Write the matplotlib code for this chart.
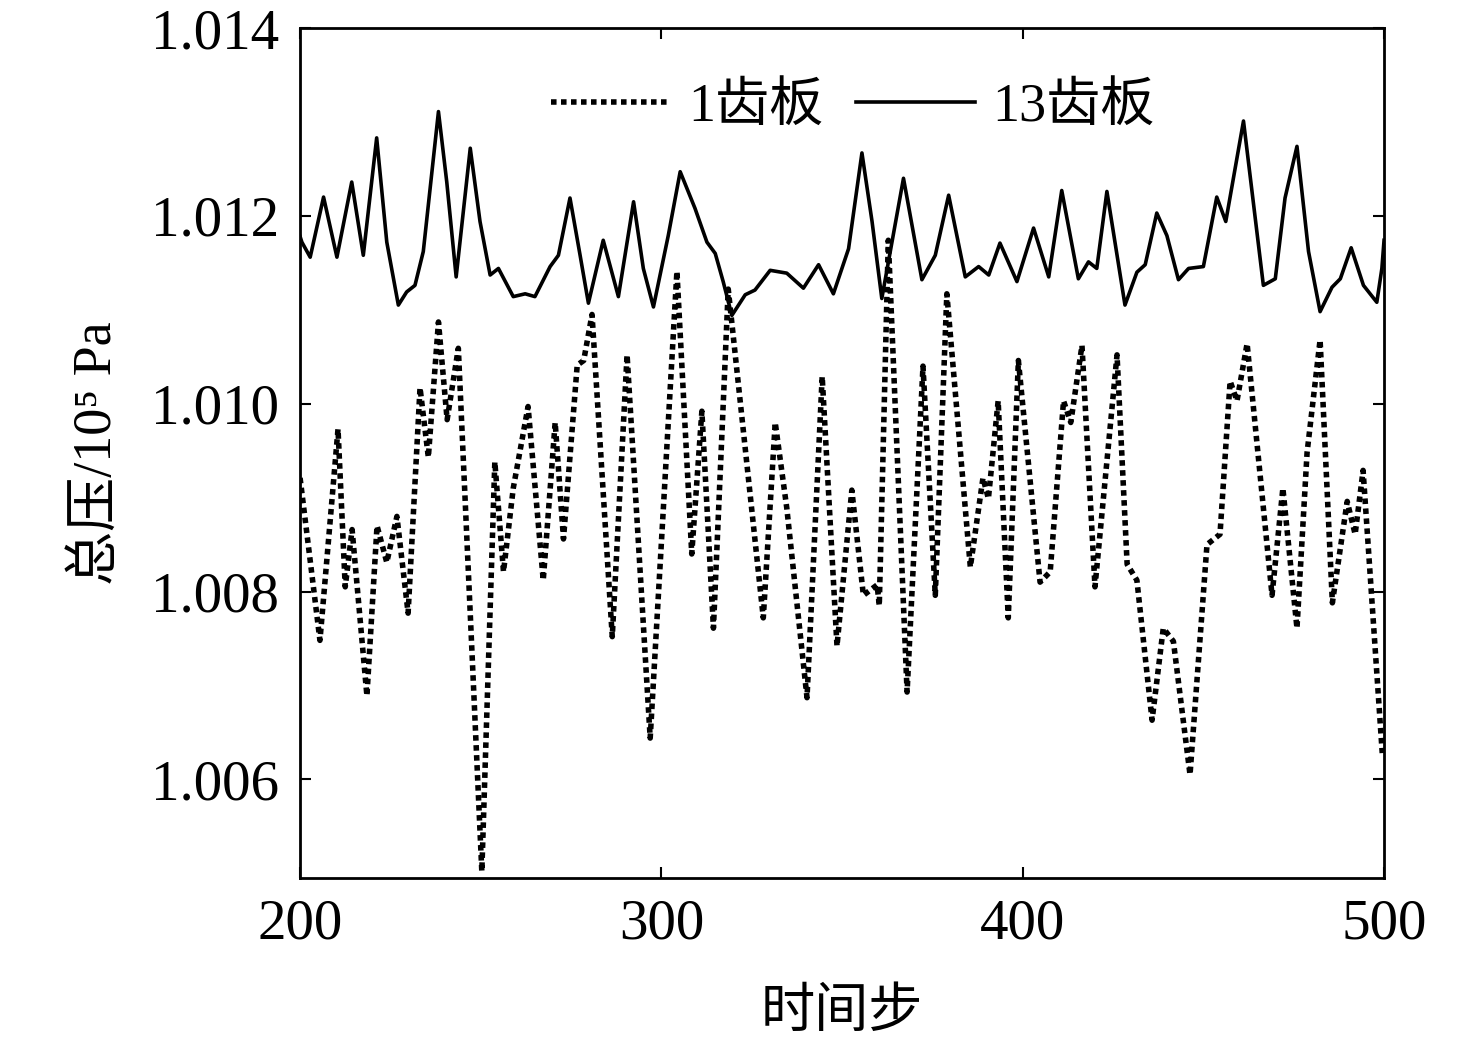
import matplotlib
matplotlib.use("Agg")
import matplotlib.pyplot as plt
from matplotlib.ticker import FormatStrFormatter

plt.rcParams["font.family"] = ["Liberation Serif", "Noto Sans CJK SC", "DejaVu Serif"]

# 13齿板 (solid line): time step, total pressure (1e5 Pa)
t13 = [200, 200.5, 202.8, 206.5, 210.2, 214.3, 217.5, 221.2, 224, 227.2, 229.5, 231.8, 234.1,
       238.3, 240.6, 243.2, 247.1, 249.8, 252.6, 254.9, 259, 262.3, 265, 269.2, 271.5, 274.7,
       277.5, 279.8, 283.9, 288.1, 292.3, 295, 297.8, 301.9, 305.2, 309.3, 312.6, 314.9,
       317.1, 319.5, 323.2, 325.9, 330.1, 334.7, 339.3, 343.5, 347.6, 351.8, 355.5, 358.3,
       361, 367, 372.1, 375.8, 379.5, 384.1, 387.8, 390.6, 393.7, 398.4, 403, 407.2, 410.8,
       415.4, 418.2, 420.5, 423.3, 428.3, 431.6, 433.9, 437.1, 439.9, 443.1, 445.9, 450,
       453.7, 456.2, 461.1, 466.6, 469.9, 472.6, 475.9, 479.1, 482.3, 485.6, 487.9, 490.9,
       494.3, 498, 499.4, 500]
p13 = [1.01178, 1.01172, 1.01156, 1.01220, 1.01156, 1.01236, 1.01158, 1.01283, 1.01172, 1.01105,
       1.01119, 1.01126, 1.01162, 1.01311, 1.01236, 1.01135, 1.01272, 1.01194, 1.01137, 1.01144,
       1.01114, 1.01117, 1.01114, 1.01146, 1.01158, 1.01219, 1.01158, 1.01107, 1.01174, 1.01114,
       1.01215, 1.01144, 1.01103, 1.01179, 1.01247, 1.01208, 1.01172, 1.01160, 1.01130, 1.01094,
       1.01116, 1.01121, 1.01142, 1.01139, 1.01123, 1.01148, 1.01117, 1.01165, 1.01267, 1.01194,
       1.01112, 1.01240, 1.01132, 1.01158, 1.01222, 1.01135, 1.01146, 1.01137, 1.01171, 1.01130,
       1.01187, 1.01135, 1.01227, 1.01133, 1.01151, 1.01144, 1.01226, 1.01105, 1.01140, 1.01148,
       1.01203, 1.01179, 1.01132, 1.01144, 1.01146, 1.01220, 1.01194, 1.01301, 1.01126, 1.01133,
       1.01219, 1.01274, 1.01162, 1.01098, 1.01124, 1.01133, 1.01166, 1.01126, 1.01108, 1.01144,
       1.01174]

# 1齿板 (dotted line)
t1 = [200, 205.5, 210.5, 212.5, 214.4, 218.5, 221.3, 224, 226.8, 229.9, 233.2, 235.5, 238.3,
      240.7, 243.8, 250.3, 253.9, 256.3, 259, 263.1, 267.3, 270.6, 272.9, 276.7, 278.5, 280.8,
      286.4, 290.5, 296.9, 304.3, 308.4, 311.2, 314.4, 318.5, 328.2, 331.5, 334.7, 340.3, 344.5,
      348.6, 352.7, 355.9, 359.7, 360.3, 362.8, 368, 372.4, 375.8, 379, 385.5, 389, 390.5,
      393.2, 396, 398.8, 404.8, 407.6, 411.3, 413.3, 416.4, 420, 426.1, 428.9, 431.6, 435.8,
      438.9, 441.7, 446.3, 451, 454.6, 457.4, 459.3, 462.1, 469, 472, 475.9, 478.7, 482.3,
      485.7, 489.8, 492, 494.2, 499.5]
p1 = [1.00921, 1.00748, 1.00973, 1.00805, 1.00866, 1.00689, 1.00870, 1.00831, 1.00880, 1.00777,
      1.01017, 1.00943, 1.01087, 1.00983, 1.01059, 1.00502, 1.00938, 1.00821, 1.00910, 1.00997,
      1.00812, 1.00980, 1.00856, 1.01041, 1.01046, 1.01095, 1.00752, 1.01052, 1.00644, 1.01141,
      1.00840, 1.00992, 1.00761, 1.01122, 1.00772, 1.00980, 1.00889, 1.00687, 1.01029, 1.00742,
      1.00908, 1.00796, 1.00807, 1.00785, 1.01174, 1.00693, 1.01040, 1.00796, 1.01117, 1.00826,
      1.00921, 1.00899, 1.01003, 1.00772, 1.01046, 1.00810, 1.00821, 1.01003, 1.00980, 1.01062,
      1.00805, 1.01052, 1.00829, 1.00812, 1.00663, 1.00761, 1.00747, 1.00605, 1.00850, 1.00861,
      1.01024, 1.01003, 1.01064, 1.00796, 1.00910, 1.00761, 1.00948, 1.01068, 1.00788, 1.00896,
      1.00861, 1.00929, 1.00628]

yticks = [1.006, 1.008, 1.010, 1.012, 1.014]
xticks = [200, 300, 400, 500]

fig = plt.figure(figsize=(14.76, 10.45), dpi=100)
ax = fig.add_axes([0.2033, 0.1598, 0.7344, 0.8134])

ax.plot(t1, p1, color="black", linewidth=4, linestyle=(0, (1, 0.8)),
        dash_capstyle="butt", label="1齿板")
ax.plot(t13, p13, color="black", linewidth=2.6, label="13齿板")

ax.set_xlim(200, 500)
ax.set_ylim(1.00495, 1.014)
ax.set_xticks(xticks)
ax.set_yticks(yticks)
ax.yaxis.set_major_formatter(FormatStrFormatter("%.3f"))
ax.tick_params(direction="in", length=8, width=1.5, labelsize=41, top=True, right=True)
ax.tick_params(axis="x", pad=15)
ax.tick_params(axis="y", pad=15)
for s in ax.spines.values():
    s.set_linewidth(2)

ax.set_xlabel("时间步", fontsize=39, labelpad=27)
ax.set_ylabel("总压/10⁵ Pa", fontsize=39, labelpad=20)

ax.legend(loc="upper center", ncol=2, frameon=False, fontsize=39,
          handlelength=2.2, columnspacing=0.6, handletextpad=0.32,
          bbox_to_anchor=(0.51, 0.993))

fig.savefig("out.png", dpi=100)
